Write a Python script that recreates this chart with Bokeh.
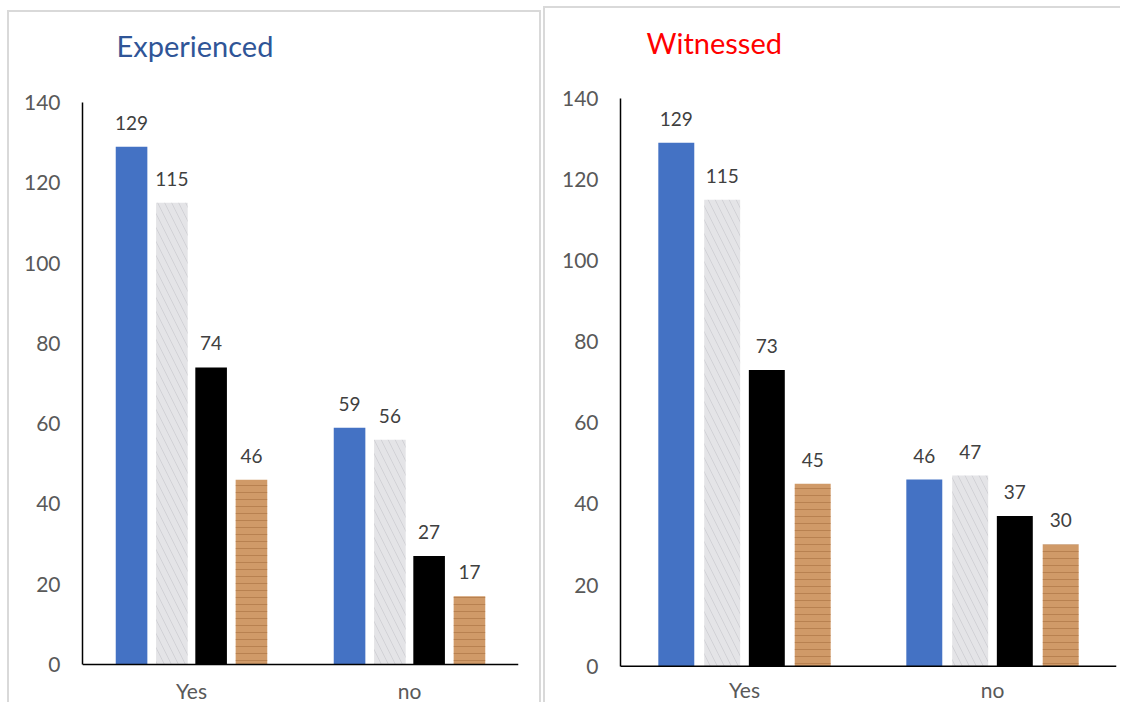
from bokeh.plotting import figure
from bokeh.models import ColumnDataSource, FactorRange, Range1d, Label, LabelSet, Span
from bokeh.transform import dodge
from bokeh.layouts import row
from bokeh.embed import file_html
from bokeh.resources import INLINE
from bokeh.core.properties import value

categories = ["Yes", "no"]
series_names = ["Series 1", "Series 2", "Series 3", "Series 4"]
experienced_yes = [129, 115, 74, 46]
experienced_no = [59, 56, 27, 17]
witnessed_yes = [129, 115, 73, 45]
witnessed_no = [46, 47, 37, 30]
y_ticks = [0, 20, 40, 60, 80, 100, 120, 140]
y_max = 140

FONT = "Lato"
offsets = [-0.275, -0.09, 0.09, 0.275]
styles_list = [
    dict(fill_color="#4472C4", line_color=None),
    dict(fill_color="#E4E4E7", line_color=None, hatch_pattern="\\", hatch_color="#B0B0B6",
         hatch_alpha=0.35, hatch_scale=14, hatch_weight=1),
    dict(fill_color="#000000", line_color=None),
    dict(fill_color="#D09A68", line_color=None, hatch_pattern="-", hatch_color="#9C6232",
         hatch_alpha=0.45, hatch_scale=7, hatch_weight=1),
]


def make_panel(title, title_color, yes_vals, no_vals, width, height, bl, br,
               margin, borders, axis_top_px, axis_bottom_px, toff, title_rise, xlab_drop):
    # frame spans the whole canvas height; the axis covers only 0..y_max
    canvas_h = height
    ppu = (axis_bottom_px - axis_top_px) / y_max
    y_start = -(canvas_h - axis_bottom_px) / ppu
    y_end = y_max + axis_top_px / ppu

    st = {"box-sizing": "border-box"}
    for b in borders:
        st["border-" + b] = "2px solid #D9D9D9"
    p = figure(x_range=FactorRange(*categories), y_range=Range1d(y_start, y_end),
               width=width, height=height, output_backend="svg", toolbar_location=None,
               x_axis_location=None,
               min_border_left=bl, min_border_right=br, min_border_top=0, min_border_bottom=0,
               margin=margin, styles=st)
    p.outline_line_color = None
    p.xgrid.grid_line_color = None
    p.ygrid.grid_line_color = None

    ax = p.yaxis[0]
    ax.bounds = (0, y_max)
    ax.axis_line_color = "black"
    ax.axis_line_width = 1.5
    ax.major_tick_line_color = None
    ax.minor_tick_line_color = None
    ax.major_tick_out = 0
    ax.major_tick_in = 0
    ax.minor_tick_out = 0
    ax.major_label_text_font = FONT
    ax.major_label_text_color = "#595959"
    ax.major_label_text_font_size = "21px"
    ax.major_label_standoff = 22
    ax.ticker = y_ticks

    # category axis line
    p.add_layout(Span(location=0, dimension="width", line_color="black", line_width=1.5))

    # chart title
    p.add_layout(Label(x=0, y=y_max, x_offset=toff, y_offset=title_rise, text=title,
                       text_color=title_color, text_font=FONT, text_font_size="29px",
                       text_baseline="alphabetic", text_align="left"))

    cat_src = ColumnDataSource(dict(x=categories, y=[0] * len(categories), t=categories))
    p.add_layout(LabelSet(x="x", y="y", text="t", source=cat_src, y_offset=-xlab_drop,
                          text_align="center", text_baseline="alphabetic",
                          text_font=value(FONT), text_font_size=value("21px"),
                          text_color=value("#595959")))

    for i, name in enumerate(series_names):
        src = ColumnDataSource(dict(x=categories, y=[yes_vals[i], no_vals[i]],
                                    lab=[str(yes_vals[i]), str(no_vals[i])]))
        p.vbar(x=dodge("x", offsets[i], range=p.x_range), top="y", width=0.145,
               source=src, **styles_list[i])
        p.text(x=dodge("x", offsets[i], range=p.x_range), y="y", text="lab", source=src,
               text_align="center", text_baseline="bottom", y_offset=-17,
               text_font=value(FONT), text_font_size="19px", text_color="#404040")
    return p


# left panel: canvas starts at image y=12, axis 140 at y=102, 0 at y=664
left = make_panel("Experienced", "#2F5597", experienced_yes, experienced_no,
                  534, 692, 73, 25, (10, 0, 0, 7), ("top", "left", "right"),
                  90, 652, 34, 57, 34)
# right panel: canvas starts at image y=8, axis 140 at y=97.7, 0 at y=665.7
right = make_panel("Witnessed", "#FF0000", witnessed_yes, witnessed_no,
                   577, 696, 75, 6, (6, 0, 0, 2), ("top", "left"),
                   89.7, 657.7, 26, 56, 32)

layout = row(left, right)
open("out.html", "w").write(file_html(layout, INLINE))
